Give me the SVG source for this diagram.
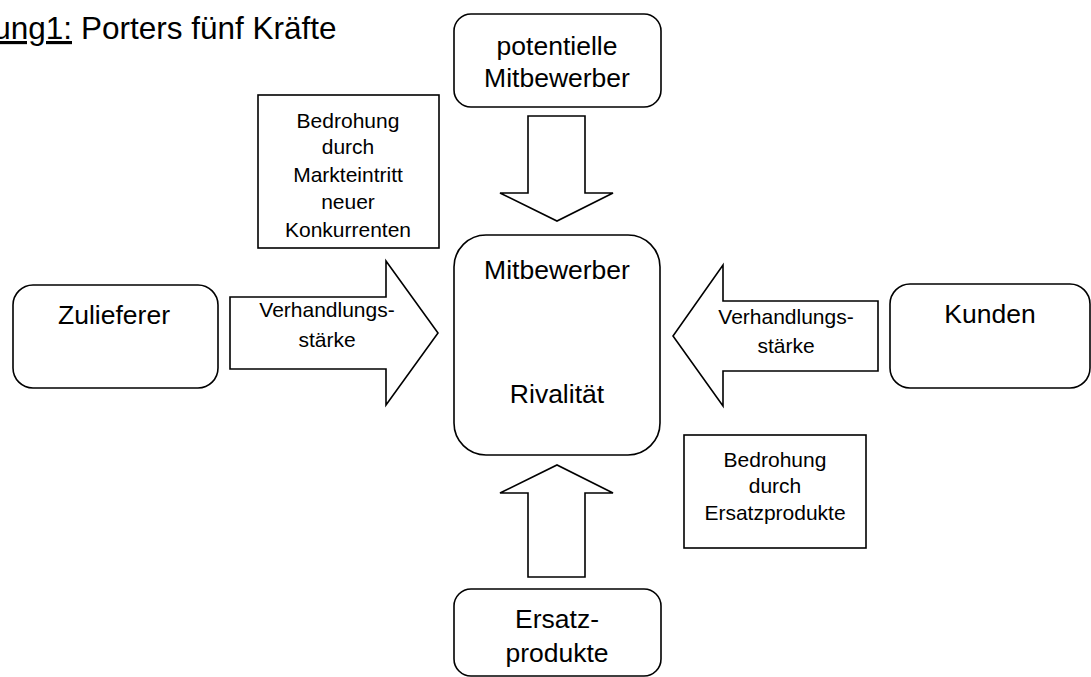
<svg xmlns="http://www.w3.org/2000/svg" width="1091" height="677" viewBox="0 0 1091 677">
<style>
.box{fill:#fff;stroke:#000;stroke-width:1.6}
.arrow{fill:#fff;stroke:#000;stroke-width:1.6;stroke-linejoin:miter}
text{font-family:"Liberation Sans",Arial,sans-serif;fill:#000;text-anchor:middle}
.big{font-size:26.5px}
.small{font-size:21px}
.title{font-size:31.5px;text-anchor:start}
</style>
<rect width="1091" height="677" fill="#fff"/>
<g id="title">
<text class="title" x="72" y="39" style="text-anchor:end;text-decoration:underline">ung1:</text>
<text class="title" x="81" y="39">Porters fünf Kräfte</text>
</g>
<g id="connectors">
<polygon id="arrow-top" class="arrow" points="528,116 585,116 585,193 613,193 557,221 500,193 528,193"/>
<polygon id="arrow-bottom" class="arrow" points="528,577 585,577 585,493 613,493 557,465 500,493 528,493"/>
<polygon id="arrow-left" class="arrow" points="230,297 386,297 386,261 438,333 386,405 386,369 230,369"/>
<polygon id="arrow-right" class="arrow" points="878,301 723,301 723,265 673,336 723,406 723,371 878,371"/>
<text class="small" x="327" y="317">Verhandlungs-</text>
<text class="small" x="327" y="347">stärke</text>
<text class="small" x="786" y="324">Verhandlungs-</text>
<text class="small" x="786" y="353">stärke</text>
</g>
<g id="node-potentielle">
<rect class="box" x="454" y="14" width="207" height="93" rx="17"/>
<text class="big" x="557" y="55">potentielle</text>
<text class="big" x="557" y="87">Mitbewerber</text>
</g>
<g id="node-markteintritt">
<rect class="box" x="258" y="95" width="181" height="153"/>
<text class="small" x="348" y="128">Bedrohung</text>
<text class="small" x="348" y="154">durch</text>
<text class="small" x="348" y="182">Markteintritt</text>
<text class="small" x="348" y="209">neuer</text>
<text class="small" x="348" y="237">Konkurrenten</text>
</g>
<g id="node-zulieferer">
<rect class="box" x="13" y="285" width="205" height="103" rx="20"/>
<text class="big" x="114" y="324">Zulieferer</text>
</g>
<g id="node-mitbewerber">
<rect class="box" x="454" y="235" width="206" height="220" rx="32"/>
<text class="big" x="557" y="279">Mitbewerber</text>
<text class="big" x="557" y="403">Rivalität</text>
</g>
<g id="node-kunden">
<rect class="box" x="890" y="284" width="200" height="104" rx="20"/>
<text class="big" x="990" y="323">Kunden</text>
</g>
<g id="node-ersatzbedrohung">
<rect class="box" x="684" y="435" width="182" height="113"/>
<text class="small" x="775" y="467">Bedrohung</text>
<text class="small" x="775" y="493">durch</text>
<text class="small" x="775" y="520">Ersatzprodukte</text>
</g>
<g id="node-ersatzprodukte">
<rect class="box" x="454" y="589" width="207" height="87" rx="17"/>
<text class="big" x="557" y="628">Ersatz-</text>
<text class="big" x="557" y="662">produkte</text>
</g>
</svg>
